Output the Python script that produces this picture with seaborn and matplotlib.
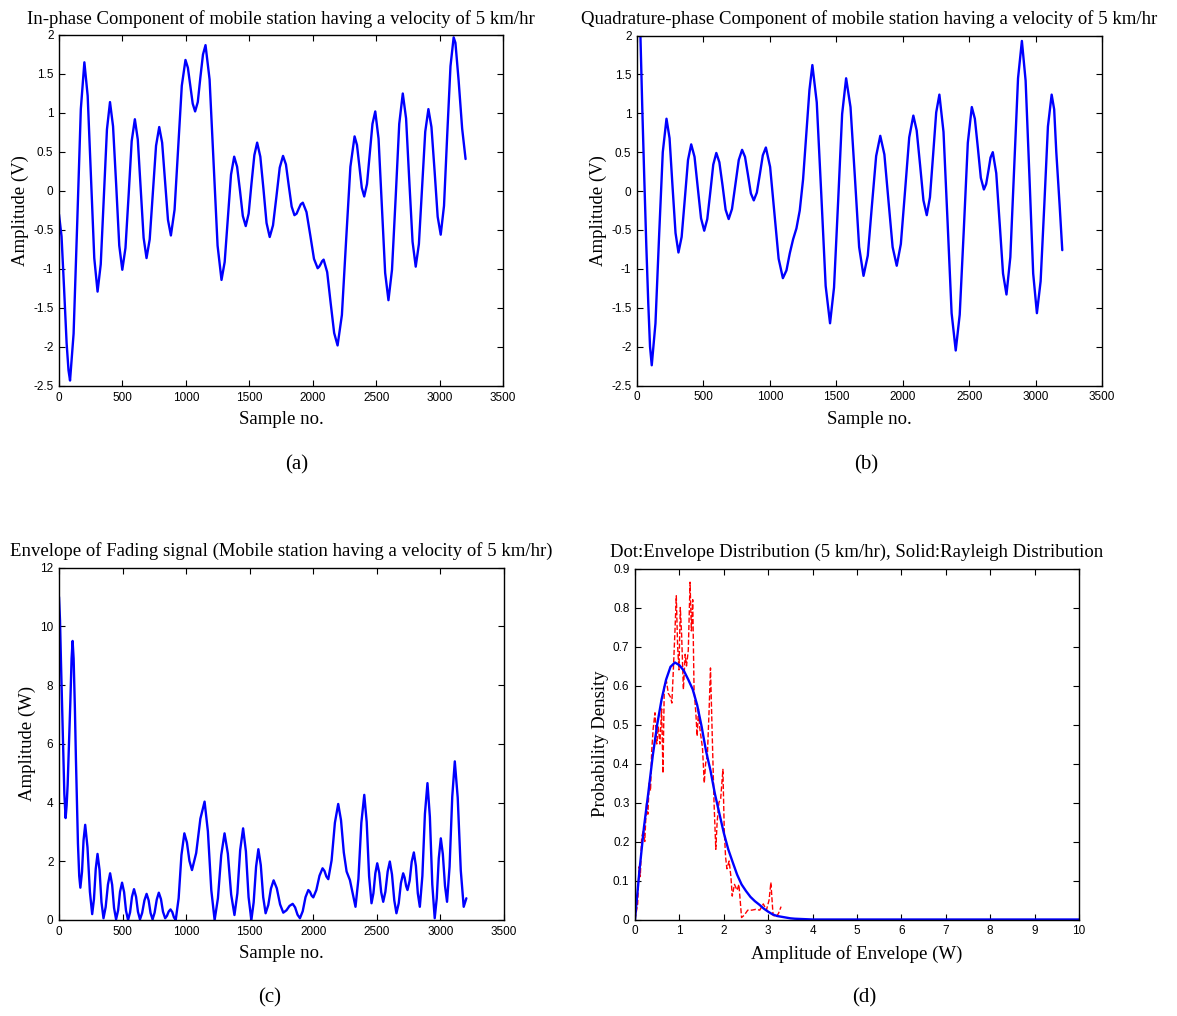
import numpy as np
import pandas as pd
import matplotlib
matplotlib.use("Agg")
import matplotlib.pyplot as plt
import seaborn as sns
from matplotlib.ticker import FixedLocator, FuncFormatter

# ---------------- data ----------------
# In-phase component (sample no., amplitude V)
i_samples = [0, 20, 40, 60, 75, 87,
             115, 144, 172, 200, 226, 252, 278, 304, 329, 353, 378, 402,
             426, 451, 475, 499, 524, 549, 573, 598, 621, 644, 667, 690,
             715, 740, 765, 790, 813, 836, 859, 882, 911, 940, 968, 997,
             1016, 1035, 1054, 1073, 1094, 1114, 1135, 1155, 1187, 1218, 1250, 1281,
             1306, 1331, 1356, 1381, 1404, 1427, 1449, 1472, 1495, 1517, 1540, 1562,
             1587, 1612, 1636, 1661, 1687, 1714, 1740, 1766, 1789, 1811, 1834, 1856,
             1873, 1889, 1906, 1922, 1951, 1981, 2010, 2039, 2051, 2062, 2074, 2086,
             2114, 2141, 2169, 2196, 2230, 2263, 2297, 2330, 2349, 2368, 2387, 2406,
             2428, 2450, 2471, 2493, 2519, 2545, 2571, 2597, 2625, 2654, 2682, 2710,
             2736, 2761, 2787, 2812, 2837, 2862, 2887, 2912, 2936, 2961, 2985, 3009,
             3035, 3060, 3086, 3111, 3125, 3150, 3178, 3205]
i_values = [-0.30, -0.58, -1.25, -1.95, -2.30, -2.43,
            -1.83, -0.39, 1.05, 1.65, 1.22, 0.18, -0.86, -1.29, -0.94, -0.08, 0.79, 1.14,
            0.83, 0.07, -0.70, -1.01, -0.73, -0.05, 0.64, 0.92, 0.66, 0.03, -0.60, -0.86,
            -0.62, -0.02, 0.58, 0.82, 0.62, 0.13, -0.37, -0.57, -0.24, 0.56, 1.35, 1.68,
            1.58, 1.35, 1.12, 1.02, 1.14, 1.45, 1.75, 1.87, 1.43, 0.37, -0.70, -1.14,
            -0.91, -0.35, 0.21, 0.44, 0.31, 0.00, -0.32, -0.45, -0.29, 0.09, 0.46, 0.62,
            0.44, 0.02, -0.41, -0.59, -0.44, -0.07, 0.30, 0.45, 0.34, 0.07, -0.20, -0.31,
            -0.29, -0.23, -0.17, -0.15, -0.27, -0.57, -0.87, -0.99, -0.97, -0.94, -0.90, -0.88,
            -1.04, -1.43, -1.82, -1.98, -1.59, -0.64, 0.31, 0.70, 0.59, 0.32, 0.04, -0.07,
            0.09, 0.48, 0.86, 1.02, 0.67, -0.19, -1.05, -1.40, -1.01, -0.08, 0.86, 1.25,
            0.93, 0.14, -0.65, -0.97, -0.68, 0.04, 0.76, 1.05, 0.82, 0.25, -0.33, -0.56,
            -0.19, 0.71, 1.60, 1.97, 1.90, 1.42, 0.80, 0.41]

# Quadrature-phase component (sample no., amplitude V)
q_samples = [0, 12, 25, 40, 55, 70, 85, 98, 111,
             139, 167, 194, 222, 245, 267, 290, 312, 336, 360, 384, 408,
             433, 457, 482, 506, 529, 552, 574, 597, 620, 644, 667, 690,
             715, 741, 766, 791, 813, 835, 857, 879, 902, 925, 947, 970,
             1002, 1034, 1066, 1098, 1125, 1150, 1175, 1200, 1225, 1250, 1275, 1298, 1320,
             1353, 1387, 1420, 1453, 1483, 1514, 1544, 1574, 1607, 1640, 1672, 1705,
             1737, 1768, 1800, 1831, 1862, 1893, 1924, 1955, 1986, 2018, 2049, 2080,
             2105, 2131, 2156, 2181, 2205, 2229, 2252, 2276, 2307, 2338, 2368, 2399,
             2429, 2460, 2490, 2520, 2543, 2566, 2588, 2611, 2628, 2645, 2661, 2678,
             2704, 2730, 2755, 2781, 2810, 2839, 2868, 2897, 2925, 2954, 2982, 3010,
             3038, 3066, 3093, 3121, 3140, 3156, 3181, 3201]
q_values = [3.30, 2.80, 2.05, 1.05, 0.15, -0.70, -1.45, -2.00, -2.24,
            -1.70, -0.55, 0.50, 0.93, 0.68, 0.07, -0.54, -0.79, -0.59, -0.10, 0.40, 0.60,
            0.44, 0.05, -0.35, -0.51, -0.36, -0.01, 0.34, 0.49, 0.37, 0.07, -0.24, -0.36,
            -0.23, 0.09, 0.40, 0.53, 0.44, 0.21, -0.03, -0.12, -0.02, 0.22, 0.46, 0.56,
            0.31, -0.28, -0.87, -1.12, -1.02, -0.80, -0.62, -0.48, -0.25, 0.15, 0.75, 1.30, 1.62,
            1.14, -0.04, -1.22, -1.70, -1.24, -0.13, 0.99, 1.45, 1.08, 0.18, -0.72, -1.09,
            -0.83, -0.19, 0.45, 0.71, 0.47, -0.13, -0.72, -0.96, -0.68, 0.01, 0.69, 0.97,
            0.78, 0.33, -0.12, -0.31, -0.08, 0.47, 1.01, 1.24, 0.76, -0.41, -1.57, -2.05,
            -1.59, -0.49, 0.62, 1.08, 0.93, 0.55, 0.17, 0.02, 0.09, 0.26, 0.43, 0.50,
            0.23, -0.42, -1.06, -1.33, -0.85, 0.30, 1.45, 1.93, 1.42, 0.18, -1.06, -1.57,
            -1.16, -0.17, 0.83, 1.24, 1.05, 0.50, -0.18, -0.76]

# Envelope of the fading signal (sample no., amplitude W)
env_samples = [0, 8, 16, 26, 34, 42, 52, 60, 68, 78, 89, 99, 107, 115, 125, 133, 141, 149, 159, 168,
               181, 193, 206, 224, 243, 261, 275, 289, 303, 319, 334, 350,
               367, 385, 402, 418, 433, 449, 465, 480, 496, 512, 527, 543,
               559, 574, 590, 606, 621, 637, 654, 672, 689, 705, 720, 736,
               752, 769, 785, 802, 818, 835, 849, 863, 877, 891, 904, 918,
               941, 963, 986, 1006, 1026, 1046, 1079, 1112, 1145, 1171, 1198, 1224,
               1250, 1276, 1302, 1328, 1354, 1380, 1403, 1425, 1448, 1470, 1491, 1513,
               1531, 1550, 1568, 1587, 1606, 1625, 1646, 1667, 1688, 1713, 1739, 1764,
               1789, 1813, 1838, 1857, 1876, 1895, 1917, 1939, 1961, 1974, 1987, 2000,
               2024, 2049, 2073, 2088, 2103, 2118, 2144, 2170, 2196,
               2218, 2240, 2262, 2288, 2310, 2332, 2355, 2378, 2401, 2420, 2439, 2458,
               2473, 2488, 2503, 2519, 2534, 2550, 2567, 2585, 2602, 2619, 2637, 2654,
               2672, 2689, 2707, 2718, 2730, 2741, 2758, 2774, 2791, 2807, 2822, 2838,
               2858, 2878, 2898, 2917, 2936, 2955, 2971, 2987, 3003, 3019, 3036, 3052,
               3072, 3093, 3113, 3136, 3160, 3183, 3194, 3204]
env_values = [11.0, 10.2, 8.7, 7.0, 5.5, 4.3, 3.47, 3.9, 4.6, 5.9, 7.4, 8.9, 9.5, 8.9, 7.2, 5.5, 4.0, 2.6, 1.5, 1.1,
              1.64, 2.71, 3.24, 2.48, 0.96, 0.20, 0.71, 1.74, 2.25, 1.70, 0.61, 0.06,
              0.44, 1.21, 1.59, 1.20, 0.41, 0.02, 0.33, 0.96, 1.27, 0.95, 0.32, 0.00,
              0.26, 0.79, 1.05, 0.79, 0.28, 0.02, 0.24, 0.67, 0.89, 0.67, 0.24, 0.02,
              0.25, 0.70, 0.93, 0.71, 0.28, 0.06, 0.14, 0.29, 0.36, 0.27, 0.09, 0.00,
              0.74, 2.21, 2.95, 2.64, 2.01, 1.70, 2.28, 3.45, 4.03, 3.02, 1.01, 0.00,
              0.74, 2.21, 2.95, 2.26, 0.87, 0.17, 0.91, 2.38, 3.12, 2.34, 0.78, 0.00,
              0.60, 1.81, 2.41, 1.87, 0.78, 0.23, 0.51, 1.07, 1.35, 1.08, 0.53, 0.25,
              0.33, 0.48, 0.55, 0.43, 0.18, 0.06, 0.30, 0.78, 1.02, 0.96, 0.83, 0.77,
              1.02, 1.51, 1.76, 1.67, 1.48, 1.39, 2.03, 3.31, 3.95,
              3.40, 2.30, 1.65, 1.36, 0.90, 0.45, 1.40, 3.31, 4.26, 3.34, 1.49, 0.57,
              0.91, 1.59, 1.93, 1.60, 0.95, 0.62, 0.96, 1.65, 1.99, 1.55, 0.67, 0.23,
              0.57, 1.25, 1.59, 1.45, 1.16, 1.02, 1.34, 1.98, 2.30, 1.84, 0.91, 0.45,
              1.50, 3.61, 4.66, 3.51, 1.21, 0.06, 0.74, 2.10, 2.78, 2.24, 1.16, 0.62,
              1.82, 4.20, 5.40, 4.16, 1.69, 0.45, 0.60, 0.74]

# Measured envelope distribution (dashed) and Rayleigh distribution (solid)
hist_amp = [0.00, 0.03, 0.06, 0.09, 0.12, 0.15, 0.19, 0.22, 0.26, 0.29, 0.32, 0.35, 0.375, 0.41,
            0.45, 0.49, 0.525, 0.56, 0.60, 0.63, 0.66, 0.71, 0.75, 0.80, 0.83, 0.86, 0.90, 0.93,
            0.96, 0.99, 1.02, 1.05, 1.09, 1.13, 1.16, 1.20, 1.24, 1.27, 1.30, 1.33, 1.37, 1.40,
            1.43, 1.46, 1.52, 1.56, 1.59, 1.63, 1.67, 1.70, 1.74, 1.78, 1.82, 1.85, 1.89, 1.93,
            1.98, 2.01, 2.04, 2.07, 2.12, 2.16, 2.19, 2.24, 2.30, 2.34, 2.40, 2.46, 2.54, 2.63,
            2.72, 2.81, 2.89, 2.96, 3.02, 3.06, 3.11, 3.17, 3.23, 3.29]
hist_pdf = [0.000, 0.020, 0.040, 0.135, 0.110, 0.210, 0.230, 0.200, 0.300, 0.270, 0.350, 0.330, 0.430, 0.490,
            0.530, 0.450, 0.495, 0.450, 0.540, 0.375, 0.600, 0.610, 0.580, 0.570, 0.555, 0.630, 0.740, 0.830,
            0.700, 0.640, 0.800, 0.730, 0.590, 0.680, 0.650, 0.690, 0.865, 0.740, 0.820, 0.590, 0.530, 0.470,
            0.540, 0.490, 0.440, 0.350, 0.400, 0.420, 0.540, 0.645, 0.470, 0.300, 0.180, 0.250, 0.300, 0.310,
            0.385, 0.230, 0.160, 0.130, 0.150, 0.110, 0.060, 0.090, 0.075, 0.090, 0.005, 0.011, 0.024, 0.024,
            0.026, 0.024, 0.040, 0.024, 0.050, 0.095, 0.011, 0.007, 0.015, 0.033]

rayl_amp = [0.0, 0.1, 0.2, 0.3, 0.4, 0.5, 0.6, 0.7, 0.8, 0.9, 1.0, 1.1, 1.2, 1.3, 1.4, 1.5, 1.6, 1.7,
            1.8, 1.9, 2.0, 2.1, 2.2, 2.3, 2.4, 2.5, 2.6, 2.7, 2.8, 2.9, 3.0, 3.1, 3.2, 3.3, 3.4, 3.5,
            3.6, 3.8, 4.0, 10.0]
rayl_pdf = [0.000, 0.125, 0.235, 0.325, 0.420, 0.500, 0.565, 0.615, 0.648, 0.659, 0.652, 0.638, 0.615,
            0.590, 0.550, 0.495, 0.432, 0.382, 0.322, 0.272, 0.222, 0.180, 0.147, 0.115, 0.090, 0.073,
            0.058, 0.047, 0.038, 0.028, 0.020, 0.013, 0.009, 0.007, 0.005, 0.003, 0.002, 0.001, 0.000,
            0.000]

titles = ["In-phase Component of mobile station having a velocity of 5 km/hr",
          "Quadrature-phase Component of mobile station having a velocity of 5 km/hr",
          "Envelope of Fading signal (Mobile station having a velocity of 5 km/hr)",
          "Dot:Envelope Distribution (5 km/hr), Solid:Rayleigh Distribution"]
panel_tags = ["(a)", "(b)", "(c)", "(d)"]

# ---------------- styling ----------------
sns.set_theme(style="ticks")
plt.rcParams['font.family'] = ['Liberation Serif', 'DejaVu Serif']
plt.rcParams['axes.unicode_minus'] = False
plt.rcParams['axes.edgecolor'] = 'black'
plt.rcParams['axes.linewidth'] = 1.0

W, H = 1177, 1016
fig = plt.figure(figsize=(W / 100, H / 100), dpi=100)
fig.patch.set_facecolor('white')


def px_axes(left, top, right, bottom):
    return fig.add_axes([left / W, 1 - bottom / H, (right - left) / W, (bottom - top) / H])


def fmt(v, _):
    return f"{v:g}"


def style(ax, xticks, yticks, xlim, ylim, title, xlabel, ylabel):
    ax.set_xlim(*xlim)
    ax.set_ylim(*ylim)
    ax.xaxis.set_major_locator(FixedLocator(xticks))
    ax.yaxis.set_major_locator(FixedLocator(yticks))
    ax.xaxis.set_major_formatter(FuncFormatter(fmt))
    ax.yaxis.set_major_formatter(FuncFormatter(fmt))
    ax.tick_params(direction='in', top=True, right=True, length=4, width=0.8,
                   labelsize=8.5, pad=4, colors='black',
                   labelfontfamily='Liberation Sans')
    for s in ax.spines.values():
        s.set_visible(True)
        s.set_color('black')
        s.set_linewidth(1.0)
    ax.set_title(title, fontsize=13.5, pad=8, color='black')
    ax.set_xlabel(xlabel, fontsize=13.5, labelpad=5.5, color='black')
    ax.set_ylabel(ylabel, fontsize=13.5, labelpad=3, color='black')


x_ticks = list(range(0, 3501, 500))
v_ticks = [-2.5, -2, -1.5, -1, -0.5, 0, 0.5, 1, 1.5, 2]

# (a) in-phase component
ax_a = px_axes(59, 35, 503, 386)
sns.lineplot(x=i_samples, y=i_values, ax=ax_a, color='#0000ff', linewidth=1.7,
             sort=False, estimator=None)
style(ax_a, x_ticks, v_ticks, (0, 3500), (-2.5, 2), titles[0], 'Sample no.', 'Amplitude (V)')

# (b) quadrature-phase component
ax_b = px_axes(637, 35.5, 1102, 385.5)
sns.lineplot(x=q_samples, y=q_values, ax=ax_b, color='#0000ff', linewidth=1.7,
             sort=False, estimator=None)
style(ax_b, x_ticks, v_ticks, (0, 3500), (-2.5, 2), titles[1], 'Sample no.', 'Amplitude (V)')

# (c) envelope
ax_c = px_axes(59, 567.5, 504, 920)
sns.lineplot(x=env_samples, y=env_values, ax=ax_c, color='#0000ff', linewidth=1.7,
             sort=False, estimator=None)
style(ax_c, x_ticks, list(range(0, 13, 2)), (0, 3500), (0, 12), titles[2], 'Sample no.', 'Amplitude (W)')

# (d) distributions
ax_d = px_axes(635, 568.5, 1079, 919.5)
sns.lineplot(x=hist_amp, y=hist_pdf, ax=ax_d, color='#ff0000', linewidth=1.0,
             linestyle='--', sort=False, estimator=None)
sns.lineplot(x=rayl_amp, y=rayl_pdf, ax=ax_d, color='#0000ff', linewidth=1.7,
             sort=False, estimator=None)
style(ax_d, list(range(0, 11)), [round(0.1 * k, 1) for k in range(10)], (0, 10), (0, 0.9),
      titles[3], 'Amplitude of Envelope (W)', 'Probability Density')

# panel tags
for tag, (cx, cy) in zip(panel_tags, [(297, 465), (866, 465), (270, 998), (864, 998)]):
    fig.text(cx / W, 1 - cy / H, tag, ha='center', va='center', fontsize=15, color='black')

fig.savefig('out.png', dpi=100, facecolor='white')
